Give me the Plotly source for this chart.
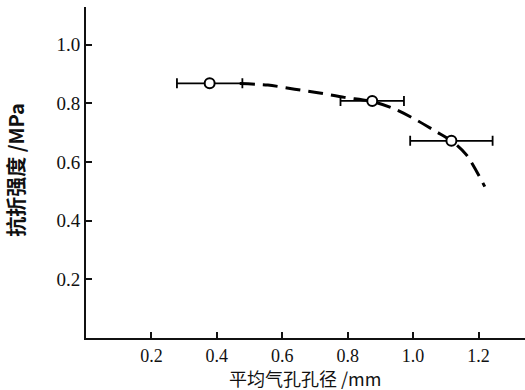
import plotly.graph_objects as go

# Data
pore_size = [0.378, 0.875, 1.117]          # mm
strength = [0.868, 0.808, 0.672]           # MPa
pore_err = [0.100, 0.097, 0.126]           # mm (horizontal error)

curve_x = [0.47, 0.556, 0.638, 0.709, 0.790, 0.875, 0.938, 1.01, 1.071, 1.117, 1.163, 1.219]
curve_y = [0.867, 0.862, 0.848, 0.836, 0.820, 0.806, 0.783, 0.743, 0.703, 0.672, 0.624, 0.516]

x_ticks = [0.2, 0.4, 0.6, 0.8, 1.0, 1.2]
y_ticks = [0.2, 0.4, 0.6, 0.8, 1.0]
x_title = "平均气孔孔径 /mm"
y_title = "抗折强度 /MPa"

serif = "Liberation Serif"
cjk = "Noto Sans CJK SC"

fig = go.Figure()
fig.add_trace(go.Scatter(
    x=curve_x, y=curve_y, mode="lines",
    line=dict(color="black", width=3, dash="15px,8px", shape="spline", smoothing=0.8),
    hoverinfo="skip", showlegend=False,
))
fig.add_trace(go.Scatter(
    x=pore_size, y=strength, mode="markers",
    marker=dict(symbol="circle", size=10, color="white", line=dict(color="black", width=2)),
    error_x=dict(type="data", array=pore_err, visible=True, color="black", thickness=1.8, width=5),
    showlegend=False,
))

fig.update_layout(
    width=525, height=390,
    margin=dict(l=86, r=0, t=7, b=52),
    paper_bgcolor="white", plot_bgcolor="white",
    font=dict(family=serif, size=19, color="#111"),
    xaxis=dict(
        range=[0, 1.342], tickvals=x_ticks, ticktext=[f"{v:.1f}" for v in x_ticks],
        ticks="inside", ticklen=6, tickwidth=1.5, tickcolor="#111",
        showline=True, linecolor="#111", linewidth=2, showgrid=False, zeroline=False,
        tickfont=dict(family=serif, size=18, color="#111"),
    ),
    yaxis=dict(
        range=[0, 1.128], tickvals=y_ticks, ticktext=[f"{v:.1f}" for v in y_ticks],
        ticks="inside", ticklen=6, tickwidth=1.5, tickcolor="#111",
        showline=True, linecolor="#111", linewidth=2, showgrid=False, zeroline=False,
        tickfont=dict(family=serif, size=19, color="#111"),
    ),
    annotations=[
        dict(text=x_title, xref="paper", yref="paper", x=0.499, y=0, yshift=-40,
             xanchor="center", yanchor="middle", showarrow=False,
             font=dict(family=cjk, size=18, color="#111")),
        dict(text="<b>" + y_title + "</b>", xref="paper", yref="paper", x=0, xshift=-70,
             y=0.508, xanchor="center", yanchor="middle", textangle=-90, showarrow=False,
             font=dict(family=cjk, size=20, color="#111")),
    ],
)

fig.write_html("out.html", config={"displayModeBar": False},
               post_script="document.body.style.margin='0';")
